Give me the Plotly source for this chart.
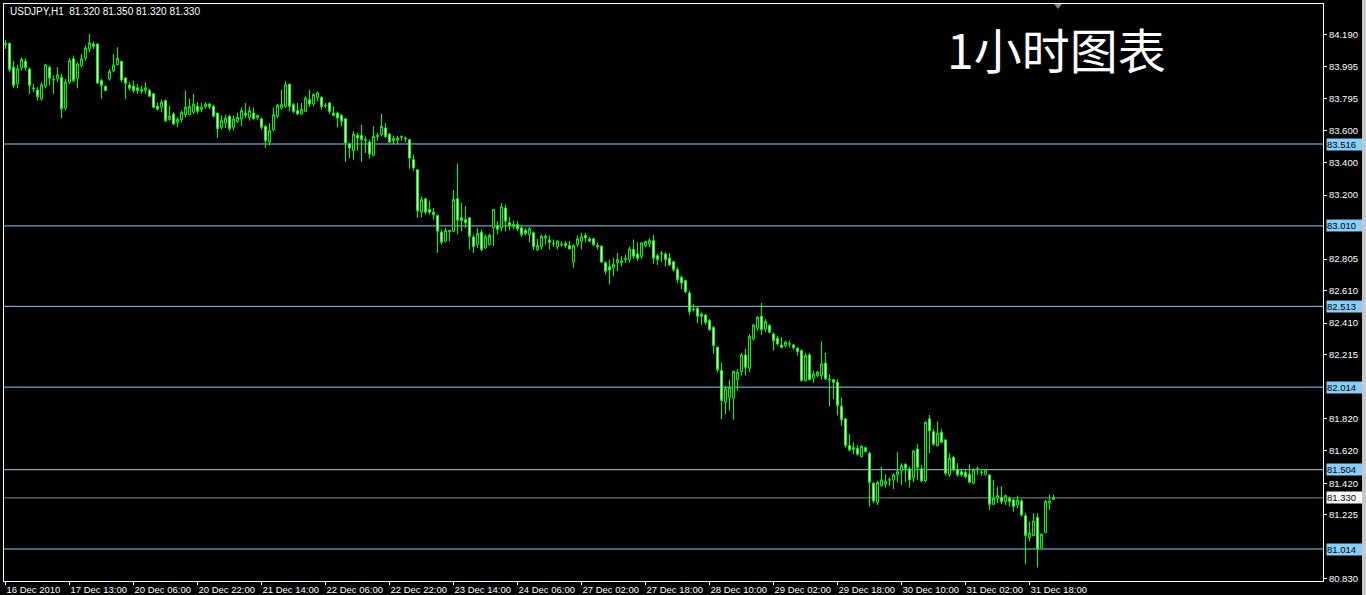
import plotly.graph_objects as go

# ---------------- data (USDJPY H1) ----------------
opens = [84.130, 84.138, 83.990, 83.887, 83.986, 84.027, 83.980, 83.862, 83.850, 83.795,
         83.873, 83.990, 83.914, 83.918, 83.928, 83.737, 83.898, 84.042, 83.922, 84.001,
         84.048, 84.103, 84.134, 84.134, 83.908, 83.873, 83.918, 83.970, 84.007, 84.027,
         83.924, 83.881, 83.873, 83.863, 83.852, 83.846, 83.846, 83.826, 83.749, 83.743,
         83.784, 83.667, 83.702, 83.650, 83.667, 83.698, 83.696, 83.712, 83.749, 83.729,
         83.747, 83.762, 83.749, 83.707, 83.619, 83.645, 83.687, 83.619, 83.656, 83.670,
         83.707, 83.680, 83.707, 83.676, 83.672, 83.625, 83.528, 83.604, 83.687, 83.738,
         83.748, 83.886, 83.759, 83.722, 83.701, 83.717, 83.790, 83.763, 83.804, 83.804,
         83.755, 83.769, 83.707, 83.707, 83.693, 83.672, 83.516, 83.475, 83.569, 83.569,
         83.543, 83.528, 83.446, 83.569, 83.574, 83.615, 83.577, 83.549, 83.539, 83.559,
         83.553, 83.543, 83.419, 83.357, 83.096, 83.177, 83.111, 83.095, 83.074, 82.971,
         82.916, 82.981, 82.977, 83.177, 83.060, 83.049, 83.060, 82.942, 82.895, 82.971,
         82.874, 82.895, 82.998, 83.012, 82.998, 83.121, 83.029, 83.018, 83.018, 82.998,
         82.983, 82.957, 82.967, 82.864, 82.881, 82.936, 82.922, 82.901, 82.881, 82.897,
         82.901, 82.889, 82.786, 82.895, 82.916, 82.951, 82.930, 82.930, 82.889, 82.885,
         82.782, 82.757, 82.751, 82.782, 82.792, 82.802, 82.802, 82.864, 82.837, 82.822,
         82.888, 82.898, 82.919, 82.826, 82.837, 82.837, 82.810, 82.789, 82.740, 82.692,
         82.672, 82.596, 82.495, 82.501, 82.464, 82.460, 82.425, 82.383, 82.260, 82.116,
         81.920, 81.951, 81.945, 82.060, 82.110, 82.213, 82.130, 82.312, 82.378, 82.452,
         82.373, 82.394, 82.342, 82.316, 82.275, 82.270, 82.281, 82.275, 82.254, 82.240,
         82.054, 82.213, 82.069, 82.085, 82.085, 82.163, 82.064, 82.060, 82.044, 81.896,
         81.818, 81.653, 81.640, 81.636, 81.585, 81.640, 81.605, 81.420, 81.303, 81.406,
         81.414, 81.441, 81.441, 81.472, 81.496, 81.537, 81.509, 81.455, 81.632, 81.509,
         81.435, 81.818, 81.739, 81.653, 81.735, 81.688, 81.472, 81.579, 81.503, 81.492,
         81.488, 81.476, 81.420, 81.507, 81.488, 81.476, 81.472, 81.290, 81.327, 81.332,
         81.307, 81.327, 81.317, 81.286, 81.311, 81.220, 81.084, 81.097, 81.208, 81.023,
         81.117, 81.297, 81.320]
highs = [84.160, 84.141, 84.027, 84.005, 84.052, 84.046, 83.988, 83.887, 83.867, 83.898,
         84.011, 84.001, 83.939, 83.990, 83.949, 83.918, 84.046, 84.062, 84.021, 84.073,
         84.124, 84.196, 84.149, 84.134, 83.918, 83.877, 83.980, 84.073, 84.114, 84.027,
         83.928, 83.898, 83.908, 83.887, 83.877, 83.898, 83.856, 83.830, 83.770, 83.791,
         83.791, 83.753, 83.712, 83.681, 83.723, 83.846, 83.795, 83.826, 83.774, 83.770,
         83.774, 83.770, 83.758, 83.707, 83.693, 83.697, 83.697, 83.691, 83.707, 83.742,
         83.769, 83.748, 83.742, 83.697, 83.680, 83.635, 83.645, 83.742, 83.763, 83.851,
         83.903, 83.886, 83.769, 83.769, 83.769, 83.810, 83.851, 83.831, 83.841, 83.810,
         83.769, 83.775, 83.748, 83.717, 83.701, 83.676, 83.522, 83.594, 83.584, 83.635,
         83.563, 83.543, 83.625, 83.584, 83.701, 83.645, 83.584, 83.569, 83.567, 83.569,
         83.563, 83.543, 83.450, 83.357, 83.192, 83.183, 83.163, 83.121, 83.080, 82.988,
         82.998, 82.983, 83.231, 83.395, 83.152, 83.132, 83.060, 82.957, 82.998, 82.988,
         82.957, 82.963, 83.115, 83.039, 83.152, 83.142, 83.066, 83.043, 83.039, 83.012,
         82.998, 83.004, 82.977, 82.930, 82.957, 82.957, 82.951, 82.926, 82.922, 82.916,
         82.916, 82.916, 82.895, 82.951, 82.967, 82.967, 82.942, 82.936, 82.905, 82.889,
         82.792, 82.802, 82.813, 82.843, 82.823, 82.833, 82.881, 82.926, 82.909, 82.909,
         82.919, 82.933, 82.954, 82.837, 82.857, 82.847, 82.843, 82.795, 82.754, 82.703,
         82.678, 82.610, 82.528, 82.513, 82.476, 82.466, 82.435, 82.390, 82.266, 82.167,
         82.023, 82.060, 82.116, 82.126, 82.225, 82.250, 82.342, 82.404, 82.452, 82.534,
         82.435, 82.404, 82.353, 82.332, 82.322, 82.301, 82.301, 82.281, 82.260, 82.246,
         82.225, 82.225, 82.116, 82.116, 82.295, 82.225, 82.095, 82.064, 82.064, 81.951,
         81.822, 81.723, 81.673, 81.657, 81.657, 81.647, 81.616, 81.426, 81.435, 81.523,
         81.476, 81.455, 81.482, 81.612, 81.544, 81.544, 81.523, 81.626, 81.661, 81.533,
         81.801, 81.842, 81.756, 81.801, 81.756, 81.694, 81.605, 81.591, 81.544, 81.509,
         81.503, 81.537, 81.513, 81.523, 81.503, 81.509, 81.472, 81.441, 81.400, 81.400,
         81.348, 81.338, 81.327, 81.344, 81.323, 81.235, 81.183, 81.235, 81.235, 81.111,
         81.317, 81.352, 81.350]
lows = [84.103, 83.959, 83.860, 83.860, 83.970, 83.970, 83.826, 83.836, 83.784, 83.784,
        83.860, 83.877, 83.826, 83.898, 83.675, 83.723, 83.887, 83.898, 83.860, 83.990,
        84.031, 84.083, 84.103, 83.887, 83.795, 83.846, 83.908, 83.959, 84.001, 83.898,
        83.794, 83.846, 83.832, 83.826, 83.826, 83.826, 83.809, 83.737, 83.723, 83.712,
        83.650, 83.661, 83.630, 83.620, 83.650, 83.681, 83.696, 83.702, 83.702, 83.712,
        83.733, 83.733, 83.681, 83.553, 83.604, 83.615, 83.594, 83.599, 83.645, 83.625,
        83.676, 83.660, 83.666, 83.666, 83.604, 83.491, 83.507, 83.594, 83.676, 83.728,
        83.738, 83.717, 83.707, 83.697, 83.697, 83.713, 83.744, 83.748, 83.779, 83.728,
        83.738, 83.701, 83.687, 83.619, 83.625, 83.405, 83.429, 83.419, 83.475, 83.405,
        83.460, 83.425, 83.440, 83.536, 83.563, 83.553, 83.522, 83.516, 83.516, 83.536,
        83.528, 83.363, 83.351, 83.059, 83.063, 83.080, 83.080, 83.049, 82.843, 82.895,
        82.909, 82.916, 82.971, 82.957, 82.977, 82.998, 82.864, 82.843, 82.874, 82.854,
        82.868, 82.889, 82.885, 82.957, 82.977, 82.977, 82.983, 82.988, 82.977, 82.942,
        82.951, 82.909, 82.860, 82.854, 82.864, 82.895, 82.864, 82.881, 82.864, 82.881,
        82.874, 82.864, 82.751, 82.881, 82.864, 82.909, 82.909, 82.885, 82.864, 82.782,
        82.710, 82.648, 82.699, 82.730, 82.761, 82.782, 82.782, 82.806, 82.795, 82.806,
        82.878, 82.878, 82.775, 82.769, 82.785, 82.760, 82.764, 82.727, 82.657, 82.620,
        82.596, 82.460, 82.480, 82.410, 82.398, 82.398, 82.363, 82.219, 82.106, 81.817,
        81.848, 81.869, 81.813, 81.992, 82.085, 82.085, 82.106, 82.301, 82.363, 82.336,
        82.353, 82.349, 82.240, 82.270, 82.254, 82.260, 82.260, 82.246, 82.209, 82.048,
        82.048, 82.054, 82.040, 82.075, 82.060, 82.060, 81.896, 81.941, 81.838, 81.776,
        81.640, 81.616, 81.599, 81.591, 81.579, 81.612, 81.276, 81.297, 81.286, 81.400,
        81.393, 81.406, 81.385, 81.426, 81.410, 81.426, 81.393, 81.426, 81.441, 81.426,
        81.426, 81.605, 81.653, 81.647, 81.667, 81.467, 81.461, 81.496, 81.461, 81.461,
        81.451, 81.420, 81.414, 81.472, 81.467, 81.467, 81.255, 81.286, 81.297, 81.290,
        81.286, 81.276, 81.245, 81.266, 81.214, 80.920, 81.060, 81.091, 80.899, 81.019,
        81.111, 81.255, 81.320]
closes = [84.138, 83.976, 83.877, 83.980, 84.038, 83.988, 83.877, 83.860, 83.809, 83.881,
          84.005, 83.922, 83.912, 83.943, 83.733, 83.898, 84.031, 83.908, 84.011, 84.042,
          84.110, 84.141, 84.120, 83.893, 83.877, 83.846, 83.963, 84.005, 84.046, 83.912,
          83.891, 83.860, 83.846, 83.846, 83.842, 83.863, 83.811, 83.743, 83.731, 83.774,
          83.661, 83.688, 83.640, 83.667, 83.712, 83.743, 83.749, 83.762, 83.718, 83.743,
          83.762, 83.747, 83.688, 83.610, 83.660, 83.676, 83.610, 83.670, 83.680, 83.722,
          83.693, 83.722, 83.672, 83.693, 83.619, 83.536, 83.598, 83.697, 83.755, 83.759,
          83.882, 83.748, 83.717, 83.701, 83.728, 83.800, 83.763, 83.821, 83.831, 83.748,
          83.753, 83.717, 83.693, 83.676, 83.656, 83.522, 83.491, 83.577, 83.553, 83.543,
          83.539, 83.454, 83.563, 83.563, 83.625, 83.563, 83.528, 83.539, 83.553, 83.561,
          83.549, 83.429, 83.367, 83.104, 83.172, 83.095, 83.095, 83.080, 82.977, 82.909,
          82.981, 82.977, 83.173, 83.045, 83.043, 83.029, 82.946, 82.881, 82.963, 82.864,
          82.942, 82.951, 83.111, 82.988, 83.128, 83.039, 83.012, 83.008, 82.992, 82.957,
          82.963, 82.992, 82.881, 82.889, 82.946, 82.946, 82.909, 82.901, 82.916, 82.895,
          82.889, 82.868, 82.889, 82.930, 82.942, 82.936, 82.916, 82.895, 82.881, 82.786,
          82.730, 82.737, 82.771, 82.802, 82.786, 82.808, 82.868, 82.823, 82.810, 82.905,
          82.913, 82.919, 82.810, 82.802, 82.839, 82.802, 82.769, 82.740, 82.678, 82.657,
          82.604, 82.480, 82.493, 82.452, 82.452, 82.414, 82.369, 82.270, 82.122, 81.931,
          82.003, 82.013, 82.110, 82.106, 82.213, 82.136, 82.328, 82.398, 82.445, 82.369,
          82.419, 82.353, 82.301, 82.281, 82.260, 82.291, 82.281, 82.258, 82.233, 82.054,
          82.209, 82.060, 82.095, 82.106, 82.157, 82.064, 82.060, 82.044, 81.900, 81.813,
          81.653, 81.626, 81.630, 81.599, 81.649, 81.616, 81.426, 81.311, 81.426, 81.441,
          81.430, 81.441, 81.472, 81.492, 81.529, 81.513, 81.441, 81.620, 81.517, 81.435,
          81.797, 81.743, 81.661, 81.729, 81.673, 81.482, 81.575, 81.503, 81.472, 81.472,
          81.461, 81.426, 81.503, 81.509, 81.488, 81.503, 81.290, 81.327, 81.344, 81.307,
          81.344, 81.307, 81.276, 81.317, 81.224, 81.097, 81.111, 81.187, 81.015, 81.105,
          81.307, 81.311, 81.330]

time_labels = ["16 Dec 2010", "17 Dec 13:00", "20 Dec 06:00", "20 Dec 22:00", "21 Dec 14:00",
               "22 Dec 06:00", "22 Dec 22:00", "23 Dec 14:00", "24 Dec 06:00", "27 Dec 02:00",
               "27 Dec 18:00", "28 Dec 10:00", "29 Dec 02:00", "29 Dec 18:00", "30 Dec 10:00",
               "31 Dec 02:00", "31 Dec 18:00"]
label_every = 16  # bars between time labels

price_ticks = [84.190, 83.995, 83.795, 83.600, 83.400, 83.200, 82.805, 82.610,
               82.410, 82.215, 81.820, 81.620, 81.420, 81.225, 80.830]
level_lines = [83.516, 83.010, 82.513, 82.014, 81.504, 81.014]
bid_price = 81.330
symbol = "USDJPY,H1"
chart_title = "1小时图表"

# ---------------- figure ----------------
bars = list(range(len(closes)))
W, H = 1362, 595          # page is 1366 wide; last 4 px are the grey window edge
L, R, T, B = 4, 39, 4, 14
FONT = "Liberation Sans, Arial, sans-serif"

fig = go.Figure(go.Candlestick(
    x=bars, open=opens, high=highs, low=lows, close=closes,
    increasing=dict(line=dict(color="#00FF00", width=1), fillcolor="#000000"),
    decreasing=dict(line=dict(color="#00FF00", width=1), fillcolor="#FFFFFF"),
    whiskerwidth=0, hoverinfo="skip", showlegend=False,
))

shapes = []
for lv in level_lines:
    shapes.append(dict(type="line", xref="paper", yref="y", x0=0, x1=1, y0=lv, y1=lv,
                       line=dict(color="#87CEFA", width=1), layer="below"))
shapes.append(dict(type="line", xref="paper", yref="y", x0=0, x1=1, y0=bid_price, y1=bid_price,
                   line=dict(color="#8C8C8C", width=1), layer="below"))
# chart-shift marker (small triangle)
pw = W - L - R
ph = H - T - B
tx = (1058 - L) / pw
shapes.append(dict(type="path", xref="paper", yref="paper",
                   path=f"M {tx-4/pw},{1.0} L {tx+4/pw},{1.0} L {tx},{1-5/ph} Z",
                   fillcolor="#808080", line=dict(color="#808080", width=0)))

annotations = []
for lv in level_lines:
    annotations.append(dict(x=1, xref="paper", y=lv, yref="y", xanchor="left", yanchor="middle",
                            xshift=3, text=f"{lv:.3f}", showarrow=False, bgcolor="#87CEFA",
                            font=dict(family=FONT, size=9.5, color="#000000"),
                            width=36, height=11, align="left", borderpad=0))
annotations.append(dict(x=1, xref="paper", y=bid_price, yref="y", xanchor="left", yanchor="middle",
                        xshift=3, text=f"{bid_price:.3f}", showarrow=False, bgcolor="#FFFFFF",
                        font=dict(family=FONT, size=9.5, color="#000000"),
                        width=36, height=11, align="left", borderpad=0))
last = len(closes) - 1
header = (f"{symbol}\u00a0\u00a0{opens[last]:.3f} {highs[last]:.3f} "
          f"{lows[last]:.3f} {closes[last]:.3f}")
annotations.append(dict(x=(8 - L) / pw, xref="paper", y=1 - (11 - T) / ph, yref="paper",
                        xanchor="left", yanchor="middle", text=header, showarrow=False,
                        font=dict(family=FONT, size=10, color="#FFFFFF")))
annotations.append(dict(x=(1056 - L) / pw, xref="paper", y=1 - (48 - T) / ph, yref="paper",
                        xanchor="center", yanchor="middle", text=chart_title, showarrow=False,
                        font=dict(family="Noto Sans CJK SC", size=48, color="#FFFFFF")))

x0 = (L - 5.5) / 4.0
x1 = (W - R - 5.5) / 4.0
# y scale: 161.87 px per yen, 84.19 at pixel 34.9
y_top = 84.19 + (34.9 - T) / 161.87
y_bot = 84.19 - (H - B - 34.9) / 161.87

fig.update_layout(
    width=W, height=H, template="none",
    margin=dict(l=L, r=R, t=T, b=B, pad=0),
    paper_bgcolor="#000000", plot_bgcolor="#000000",
    shapes=shapes, annotations=annotations, showlegend=False,
    xaxis=dict(range=[x0, x1], rangeslider=dict(visible=False), showgrid=False, zeroline=False,
               showline=True, linecolor="#FFFFFF", linewidth=1, mirror=True,
               ticks="outside", ticklen=3, tickcolor="#FFFFFF", tickwidth=1, tickangle=0,
               tickvals=[i * label_every for i in range(len(time_labels))], ticktext=time_labels,
               ticklabelposition="outside right", ticklabelstandoff=0,
               tickfont=dict(family=FONT, size=9.5, color="#FFFFFF"), automargin=False),
    yaxis=dict(range=[y_bot, y_top], side="right", showgrid=False, zeroline=False,
               showline=True, linecolor="#FFFFFF", linewidth=1, mirror=True,
               ticks="outside", ticklen=3, tickcolor="#FFFFFF", tickwidth=1,
               tickvals=price_ticks, ticktext=[f"{v:.3f}" for v in price_ticks],
               tickfont=dict(family=FONT, size=9.5, color="#FFFFFF"), automargin=False),
)

fig.write_html(
    "out.html",
    config={"displayModeBar": False},
    post_script="document.body.style.margin='0';document.body.style.overflow='hidden';"
                "document.body.style.background='#C8C8C8';",
)
